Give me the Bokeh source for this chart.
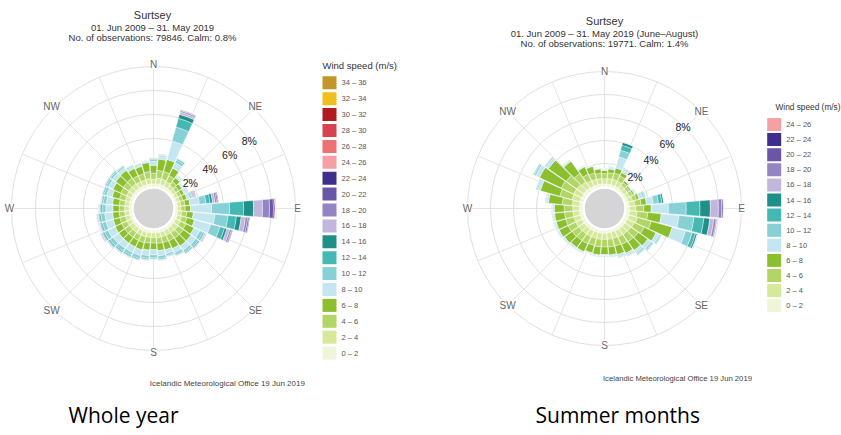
import math
from bokeh.plotting import figure
from bokeh.models import Range1d, ColumnDataSource
from bokeh.embed import file_html
from bokeh.resources import INLINE
from bokeh.core.properties import value

# ---------------------------------------------------------------- data
BEARINGS = list(range(0, 360, 10))

CLASS_LABELS = ["0 – 2", "2 – 4", "4 – 6", "6 – 8", "8 – 10", "10 – 12", "12 – 14",
                "14 – 16", "16 – 18", "18 – 20", "20 – 22", "22 – 24", "24 – 26",
                "26 – 28", "28 – 30", "30 – 32", "32 – 34", "34 – 36"]
CLASS_COLORS = ["#eef5d8", "#d6e89a", "#b1d665", "#8bbf2f", "#c3e6f0", "#86d0d6",
                "#45b8b4", "#1f9088", "#c2b6dc", "#9584c4", "#6b55a6", "#3f2e8c",
                "#f5a0a5", "#f07175", "#d8414e", "#b01a20", "#f0bf1e", "#c4952b"]

# Whole year: % of observations per 10-degree sector, one list per speed class
year_0_2 = [0.22, 0.24, 0.24, 0.22, 0.20, 0.18, 0.17, 0.17, 0.18, 0.18, 0.20, 0.21, 0.22, 0.23, 0.23, 0.22, 0.22, 0.22,
            0.21, 0.21, 0.22, 0.22, 0.22, 0.22, 0.22, 0.21, 0.21, 0.20, 0.20, 0.21, 0.22, 0.23, 0.23, 0.22, 0.22, 0.23]
year_2_4 = [0.40, 0.47, 0.47, 0.42, 0.33, 0.28, 0.26, 0.26, 0.28, 0.28, 0.34, 0.38, 0.42, 0.44, 0.44, 0.42, 0.40, 0.40,
            0.38, 0.38, 0.40, 0.40, 0.40, 0.40, 0.40, 0.39, 0.38, 0.38, 0.38, 0.40, 0.43, 0.45, 0.46, 0.43, 0.42, 0.45]
year_4_6 = [0.50, 0.65, 0.65, 0.55, 0.37, 0.30, 0.28, 0.28, 0.33, 0.35, 0.42, 0.47, 0.52, 0.55, 0.55, 0.52, 0.50, 0.48,
            0.46, 0.48, 0.50, 0.49, 0.49, 0.49, 0.49, 0.48, 0.46, 0.45, 0.46, 0.50, 0.54, 0.56, 0.58, 0.54, 0.52, 0.58]
year_6_8 = [0.65, 0.95, 1.05, 0.70, 0.40, 0.30, 0.28, 0.34, 0.42, 0.45, 0.55, 0.65, 0.75, 0.78, 0.78, 0.70, 0.63, 0.60,
            0.55, 0.58, 0.63, 0.60, 0.60, 0.60, 0.60, 0.57, 0.55, 0.52, 0.56, 0.64, 0.72, 0.78, 0.80, 0.68, 0.65, 0.75]
year_8_10 = [0.33, 0.22, 1.60, 0.50, 0.14, 0.11, 0.16, 0.26, 0.80, 1.75, 1.80, 1.40, 0.55, 0.50, 0.44, 0.39, 0.33, 0.44,
             0.44, 0.47, 0.50, 0.52, 0.55, 0.60, 0.66, 0.63, 0.66, 0.60, 0.52, 0.47, 0.41, 0.36, 0.28, 0.20, 0.17, 0.11]
year_10_12 = [0.17, 0.11, 1.20, 0.25, 0.07, 0.05, 0.08, 0.14, 0.55, 1.50, 1.10, 0.80, 0.28, 0.25, 0.22, 0.20, 0.17, 0.22,
              0.22, 0.24, 0.25, 0.27, 0.28, 0.31, 0.34, 0.32, 0.34, 0.31, 0.27, 0.24, 0.21, 0.18, 0.14, 0.10, 0.08, 0.06]
year_12_14 = [0.07, 0.05, 0.75, 0.11, 0.03, 0.03, 0.04, 0.07, 0.35, 1.17, 0.70, 0.40, 0.12, 0.11, 0.10, 0.08, 0.07, 0.10,
              0.10, 0.10, 0.11, 0.11, 0.12, 0.13, 0.14, 0.14, 0.14, 0.13, 0.11, 0.10, 0.09, 0.08, 0.06, 0.04, 0.04, 0.02]
year_14_16 = [0.03, 0.02, 0.35, 0.04, 0.01, 0.01, 0.02, 0.03, 0.20, 0.83, 0.40, 0.20, 0.05, 0.04, 0.04, 0.03, 0.03, 0.04,
              0.04, 0.04, 0.04, 0.05, 0.05, 0.06, 0.06, 0.06, 0.06, 0.06, 0.05, 0.04, 0.04, 0.03, 0.02, 0.01, 0.01, 0.01]
year_16_18 = [0.02, 0.02, 0.20, 0.03, 0.02, 0.02, 0.05, 0.15, 0.20, 0.75, 0.35, 0.25, 0.10, 0.03, 0.02, 0.02, 0.02, 0.02,
              0.02, 0.02, 0.03, 0.04, 0.04, 0.05, 0.06, 0.06, 0.06, 0.05, 0.04, 0.03, 0.03, 0.02, 0.02, 0.01, 0.01, 0.01]
year_18_20 = [0.01, 0.01, 0.12, 0.01, 0.01, 0.01, 0.03, 0.08, 0.15, 0.58, 0.20, 0.15, 0.05, 0.01, 0.01, 0.01, 0.01, 0.01,
              0.01, 0.01, 0.01, 0.02, 0.02, 0.03, 0.04, 0.04, 0.04, 0.03, 0.02, 0.01, 0.01, 0.01, 0.01, 0.00, 0.00, 0.00]
year_20_22 = [0.00, 0.00, 0.05, 0.00, 0.00, 0.00, 0.02, 0.05, 0.10, 0.33, 0.12, 0.08, 0.02, 0.00, 0.00, 0.00, 0.00, 0.00,
              0.00, 0.00, 0.00, 0.01, 0.01, 0.02, 0.03, 0.03, 0.03, 0.02, 0.01, 0.00, 0.00, 0.00, 0.00, 0.00, 0.00, 0.00]
year_22_24 = [0.00, 0.00, 0.02, 0.00, 0.00, 0.00, 0.00, 0.02, 0.04, 0.12, 0.04, 0.03, 0.00, 0.00, 0.00, 0.00, 0.00, 0.00,
              0.00, 0.00, 0.00, 0.00, 0.00, 0.01, 0.02, 0.02, 0.02, 0.01, 0.00, 0.00, 0.00, 0.00, 0.00, 0.00, 0.00, 0.00]
year_24_26 = [0.00, 0.00, 0.00, 0.00, 0.00, 0.00, 0.00, 0.00, 0.00, 0.05, 0.00, 0.00, 0.00, 0.00, 0.00, 0.00, 0.00, 0.00,
              0.00, 0.00, 0.00, 0.00, 0.00, 0.00, 0.00, 0.02, 0.02, 0.00, 0.00, 0.00, 0.00, 0.00, 0.00, 0.00, 0.00, 0.00]
year_26_28 = [0.00, 0.00, 0.00, 0.00, 0.00, 0.00, 0.00, 0.00, 0.00, 0.03, 0.00, 0.00, 0.00, 0.00, 0.00, 0.00, 0.00, 0.00,
              0.00, 0.00, 0.00, 0.00, 0.00, 0.00, 0.00, 0.01, 0.00, 0.00, 0.00, 0.00, 0.00, 0.00, 0.00, 0.00, 0.00, 0.00]
year_28_30 = [0.00, 0.00, 0.00, 0.00, 0.00, 0.00, 0.00, 0.00, 0.00, 0.02, 0.00, 0.00, 0.00, 0.00, 0.00, 0.00, 0.00, 0.00,
              0.00, 0.00, 0.00, 0.00, 0.00, 0.00, 0.00, 0.00, 0.01, 0.00, 0.00, 0.00, 0.00, 0.00, 0.00, 0.00, 0.00, 0.00]
year_30_32 = [0.00, 0.00, 0.00, 0.00, 0.00, 0.00, 0.00, 0.00, 0.00, 0.02, 0.00, 0.00, 0.00, 0.00, 0.00, 0.00, 0.00, 0.00,
              0.00, 0.00, 0.00, 0.00, 0.00, 0.00, 0.00, 0.00, 0.00, 0.00, 0.00, 0.00, 0.00, 0.00, 0.00, 0.00, 0.00, 0.00]
year_32_34 = [0.00, 0.00, 0.00, 0.00, 0.00, 0.00, 0.00, 0.00, 0.00, 0.02, 0.00, 0.00, 0.00, 0.00, 0.00, 0.00, 0.00, 0.00,
              0.00, 0.00, 0.00, 0.00, 0.00, 0.00, 0.00, 0.00, 0.00, 0.00, 0.00, 0.00, 0.00, 0.00, 0.00, 0.00, 0.00, 0.00]
year_34_36 = [0.00, 0.00, 0.00, 0.00, 0.00, 0.00, 0.00, 0.00, 0.00, 0.01, 0.00, 0.00, 0.00, 0.00, 0.00, 0.00, 0.00, 0.00,
              0.00, 0.00, 0.00, 0.00, 0.00, 0.00, 0.00, 0.00, 0.00, 0.00, 0.00, 0.00, 0.00, 0.00, 0.00, 0.00, 0.00, 0.00]

# Summer months (June-August)
summer_0_2 = [0.22, 0.23, 0.24, 0.23, 0.20, 0.19, 0.19, 0.21, 0.24, 0.26, 0.28, 0.30, 0.28, 0.27, 0.27, 0.26, 0.25, 0.25,
              0.25, 0.25, 0.25, 0.26, 0.26, 0.26, 0.27, 0.27, 0.27, 0.27, 0.28, 0.30, 0.30, 0.30, 0.28, 0.25, 0.24, 0.23]
summer_2_4 = [0.45, 0.48, 0.50, 0.48, 0.36, 0.32, 0.33, 0.40, 0.50, 0.55, 0.65, 0.75, 0.68, 0.62, 0.60, 0.58, 0.55, 0.54,
              0.53, 0.54, 0.53, 0.55, 0.55, 0.57, 0.58, 0.58, 0.58, 0.58, 0.62, 0.72, 0.75, 0.72, 0.64, 0.52, 0.50, 0.47]
summer_4_6 = [0.45, 0.50, 0.55, 0.50, 0.30, 0.25, 0.27, 0.35, 0.55, 0.70, 0.95, 1.25, 0.95, 0.80, 0.76, 0.72, 0.68, 0.66,
              0.65, 0.66, 0.65, 0.68, 0.68, 0.71, 0.74, 0.74, 0.74, 0.74, 0.88, 1.10, 1.20, 1.15, 0.90, 0.63, 0.56, 0.47]
summer_6_8 = [0.28, 0.34, 0.46, 0.34, 0.19, 0.14, 0.16, 0.24, 0.46, 0.64, 1.17, 1.90, 1.14, 1.01, 0.92, 0.84, 0.77, 0.70,
              0.67, 0.70, 0.67, 0.76, 0.76, 0.81, 0.86, 0.86, 0.86, 0.86, 1.20, 1.75, 2.10, 1.90, 1.30, 0.70, 0.60, 0.38]
summer_8_10 = [0.09, 0.12, 1.00, 0.24, 0.06, 0.06, 0.12, 0.35, 0.60, 1.50, 1.55, 1.20, 0.30, 0.36, 0.30, 0.18, 0.18, 0.12,
               0.09, 0.09, 0.09, 0.12, 0.12, 0.12, 0.12, 0.15, 0.15, 0.15, 0.18, 0.24, 0.36, 0.24, 0.12, 0.06, 0.06, 0.06]
summer_10_12 = [0.04, 0.05, 0.60, 0.10, 0.03, 0.03, 0.05, 0.15, 0.45, 1.55, 1.30, 0.60, 0.12, 0.15, 0.12, 0.08, 0.08, 0.05,
                0.04, 0.04, 0.04, 0.05, 0.05, 0.05, 0.05, 0.06, 0.06, 0.06, 0.08, 0.10, 0.15, 0.10, 0.05, 0.03, 0.03, 0.03]
summer_12_14 = [0.01, 0.02, 0.45, 0.04, 0.01, 0.01, 0.02, 0.07, 0.30, 1.20, 0.87, 0.30, 0.05, 0.06, 0.05, 0.03, 0.03, 0.02,
                0.01, 0.01, 0.01, 0.02, 0.02, 0.02, 0.02, 0.03, 0.03, 0.03, 0.03, 0.04, 0.06, 0.04, 0.02, 0.01, 0.01, 0.01]
summer_14_16 = [0.01, 0.01, 0.25, 0.02, 0.00, 0.00, 0.01, 0.03, 0.15, 0.90, 0.52, 0.15, 0.03, 0.03, 0.03, 0.01, 0.01, 0.01,
                0.01, 0.01, 0.01, 0.01, 0.01, 0.01, 0.01, 0.01, 0.01, 0.01, 0.01, 0.02, 0.03, 0.02, 0.01, 0.00, 0.00, 0.00]
summer_16_18 = [0.00, 0.00, 0.03, 0.00, 0.00, 0.00, 0.00, 0.01, 0.03, 0.70, 0.35, 0.06, 0.00, 0.00, 0.00, 0.00, 0.00, 0.00,
                0.00, 0.00, 0.00, 0.00, 0.00, 0.00, 0.00, 0.00, 0.00, 0.00, 0.00, 0.00, 0.00, 0.00, 0.00, 0.00, 0.00, 0.00]
summer_18_20 = [0.00, 0.00, 0.00, 0.00, 0.00, 0.00, 0.00, 0.00, 0.00, 0.30, 0.20, 0.02, 0.00, 0.00, 0.00, 0.00, 0.00, 0.00,
                0.00, 0.00, 0.00, 0.00, 0.00, 0.00, 0.00, 0.00, 0.00, 0.00, 0.00, 0.00, 0.00, 0.00, 0.00, 0.00, 0.00, 0.00]
summer_20_22 = [0.00, 0.00, 0.00, 0.00, 0.00, 0.00, 0.00, 0.00, 0.00, 0.12, 0.06, 0.00, 0.00, 0.00, 0.00, 0.00, 0.00, 0.00,
                0.00, 0.00, 0.00, 0.00, 0.00, 0.00, 0.00, 0.00, 0.00, 0.00, 0.00, 0.00, 0.00, 0.00, 0.00, 0.00, 0.00, 0.00]
summer_22_24 = [0.00, 0.00, 0.00, 0.00, 0.00, 0.00, 0.00, 0.00, 0.00, 0.03, 0.00, 0.00, 0.00, 0.00, 0.00, 0.00, 0.00, 0.00,
                0.00, 0.00, 0.00, 0.00, 0.00, 0.00, 0.00, 0.00, 0.00, 0.00, 0.00, 0.00, 0.00, 0.00, 0.00, 0.00, 0.00, 0.00]
summer_24_26 = [0.00, 0.00, 0.00, 0.00, 0.00, 0.00, 0.00, 0.00, 0.00, 0.01, 0.00, 0.00, 0.00, 0.00, 0.00, 0.00, 0.00, 0.00,
                0.00, 0.00, 0.00, 0.00, 0.00, 0.00, 0.00, 0.00, 0.00, 0.00, 0.00, 0.00, 0.00, 0.00, 0.00, 0.00, 0.00, 0.00]

YEAR = [year_0_2, year_2_4, year_4_6, year_6_8, year_8_10, year_10_12, year_12_14, year_14_16, year_16_18,
        year_18_20, year_20_22, year_22_24, year_24_26, year_26_28, year_28_30, year_30_32, year_32_34, year_34_36]
SUMMER = [summer_0_2, summer_2_4, summer_4_6, summer_6_8, summer_8_10, summer_10_12, summer_12_14, summer_14_16,
          summer_16_18, summer_18_20, summer_20_22, summer_22_24, summer_24_26]

RING_PCTS = [2, 4, 6, 8]
OUTER_PCT = 10
COMPASS = ["N", "NE", "E", "SE", "S", "SW", "W", "NW"]
COMPASS_BEARINGS = [0, 45, 90, 135, 180, 225, 270, 315]

TITLE = "Surtsey"
YEAR_SUB = ["01. Jun 2009 – 31. May 2019", "No. of observations: 79846. Calm: 0.8%"]
SUMMER_SUB = ["01. Jun 2009 – 31. May 2019 (June–August)", "No. of observations: 19771. Calm: 1.4%"]
CREDIT = "Icelandic Meteorological Office  19 Jun 2019"
CAPTIONS = ["Whole year", "Summer months"]
LEGEND_TITLE = "Wind speed (m/s)"

# ---------------------------------------------------------------- canvas
W, H = 841, 435
p = figure(width=W, height=H, output_backend="svg", toolbar_location=None,
           x_range=Range1d(0, W), y_range=Range1d(0, H), min_border=0)
p.axis.visible = False
p.grid.visible = False
p.outline_line_color = None
p.background_fill_color = "white"


def X(ix):
    return ix


def Y(iy):
    return H - iy


SANS = value("Liberation Sans")


def draw_rose(cx_i, cy_i, r0, k, classes, pct_bearing, label_pad):
    cx, cy = X(cx_i), Y(cy_i)
    radii = [r0 + k * q for q in RING_PCTS + [OUTER_PCT]]
    outer = radii[-1]
    # spokes
    xs0, ys0, xs1, ys1 = [], [], [], []
    for i in range(16):
        a = math.radians(90 - i * 22.5)
        xs0.append(cx + r0 * math.cos(a)); ys0.append(cy + r0 * math.sin(a))
        xs1.append(cx + outer * math.cos(a)); ys1.append(cy + outer * math.sin(a))
    p.segment(xs0, ys0, xs1, ys1, line_color="#e4e4e4", line_width=1)
    p.circle(x=[cx] * len(radii), y=[cy] * len(radii), radius=radii, fill_color=None,
             line_color="#e0e0e0", line_width=1)
    # stacked sector bars
    cum = [0.0] * len(BEARINGS)
    d = dict(x=[], y=[], ir=[], orad=[], sa=[], ea=[], c=[])
    half = math.radians(4.6)
    for ci, vals in enumerate(classes):
        for si, v in enumerate(vals):
            if v <= 0:
                continue
            a = math.radians(90 - BEARINGS[si])
            d["x"].append(cx); d["y"].append(cy)
            d["ir"].append(r0 + k * cum[si]); d["orad"].append(r0 + k * (cum[si] + v))
            d["sa"].append(a - half); d["ea"].append(a + half)
            d["c"].append(CLASS_COLORS[ci])
            cum[si] += v
    p.annular_wedge(x="x", y="y", inner_radius="ir", outer_radius="orad", start_angle="sa",
                    end_angle="ea", fill_color="c", line_color="white", line_width=0.4,
                    source=ColumnDataSource(d))
    # calm circle
    p.circle(x=[cx], y=[cy], radius=[r0 - 1.5], fill_color="#d5d5d5", line_color="white", line_width=1.5)
    # percent labels
    a = math.radians(90 - pct_bearing)
    p.text(x=[cx + (r - 1) * math.cos(a) for r in radii[:-1]],
           y=[cy + (r - 1) * math.sin(a) for r in radii[:-1]],
           text=[f"{q}%" for q in RING_PCTS], text_font=SANS, text_font_size="10.5px",
           text_color="#222222", text_align="center", text_baseline="middle")
    # compass labels
    lx, ly = [], []
    for b in COMPASS_BEARINGS:
        a = math.radians(90 - b)
        lx.append(cx + (outer + label_pad) * math.cos(a))
        ly.append(cy + (outer + label_pad) * math.sin(a))
    p.text(x=lx, y=ly, text=COMPASS, text_font=SANS, text_font_size="10px", text_color="#666666",
           text_align="center", text_baseline="middle", background_fill_color="white")


def draw_legend(x_i, y0_i, step, n, title_x_i, title_y_i, fs_title):
    ys = [Y(y0_i + i * step) for i in range(n)]
    cols = list(reversed(CLASS_COLORS[:n]))
    labs = list(reversed(CLASS_LABELS[:n]))
    p.rect(x=[X(x_i)] * n, y=ys, width=14, height=13, fill_color=cols, line_color=None)
    p.text(x=[X(x_i + 12)] * n, y=ys, text=labs, text_font=SANS, text_font_size="7.5px",
           text_color="#555555", text_align="left", text_baseline="middle")
    p.text(x=[X(title_x_i)], y=[Y(title_y_i)], text=[LEGEND_TITLE], text_font=SANS,
           text_font_size=fs_title, text_color="#333333", text_align="left", text_baseline="middle")


def draw_titles(cx_i, title_y, sub, sub_ys):
    p.text(x=[X(cx_i)], y=[Y(title_y)], text=[TITLE], text_font=SANS, text_font_size="11px",
           text_color="#333333", text_align="center", text_baseline="middle")
    p.text(x=[X(cx_i)] * 2, y=[Y(v) for v in sub_ys], text=sub, text_font=SANS, text_font_size="9.5px",
           text_color="#333333", text_align="center", text_baseline="middle")


# left: whole year
draw_rose(153, 208, 22, 12.0, YEAR, 55, 2)
draw_legend(329, 82.3, 15.9, len(YEAR), 322, 65, "9.5px")
draw_titles(152, 14, YEAR_SUB, [27, 36.5])
p.text(x=[X(228)], y=[Y(383)], text=[CREDIT], text_font=SANS, text_font_size="8px",
       text_color="#444444", text_align="center", text_baseline="middle")

# right: summer months
draw_rose(604, 208, 22, 11.5, SUMMER, 44, 0)
draw_legend(773.7, 124, 15.1, len(SUMMER), 775, 106, "8.3px")
draw_titles(604, 20, SUMMER_SUB, [33, 43])
p.text(x=[X(678)], y=[Y(378)], text=[CREDIT], text_font=SANS, text_font_size="7.7px",
       text_color="#444444", text_align="center", text_baseline="middle")

# captions
p.text(x=[X(68), X(535)], y=[Y(414), Y(414)], text=CAPTIONS, text_font=value("Open Sans"),
       text_font_size="21px", text_color="#000000", text_align="left", text_baseline="middle")

open("out.html", "w").write(file_html(p, INLINE))
